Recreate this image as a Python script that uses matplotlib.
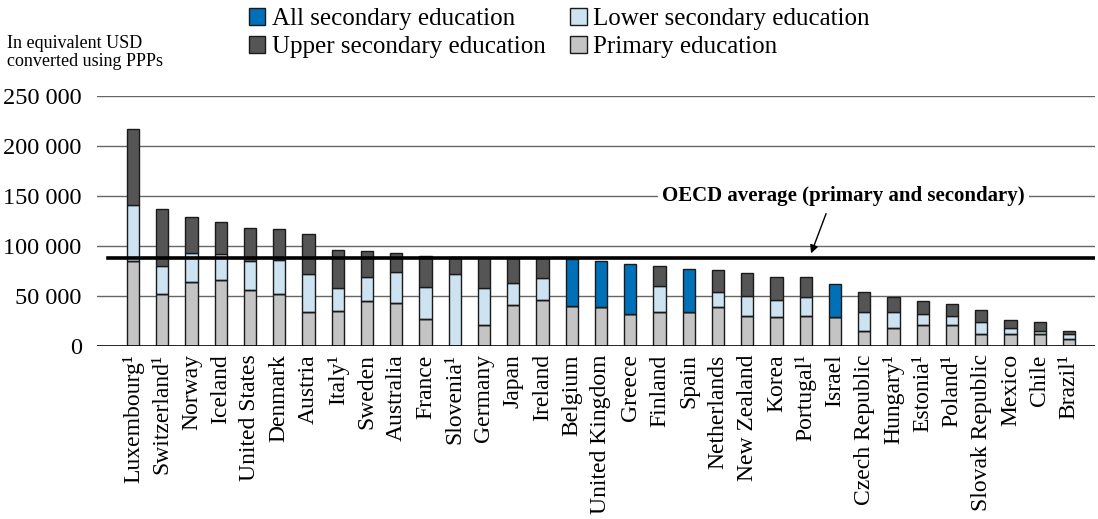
import matplotlib
matplotlib.use("Agg")
import matplotlib.pyplot as plt
from matplotlib.patches import Patch
import numpy as np

plt.rcParams['font.family'] = ['Liberation Serif', 'DejaVu Serif']

countries = ["Luxembourg¹", "Switzerland¹", "Norway", "Iceland", "United States", "Denmark",
             "Austria", "Italy¹", "Sweden", "Australia", "France", "Slovenia¹", "Germany",
             "Japan", "Ireland", "Belgium", "United Kingdom", "Greece", "Finland", "Spain",
             "Netherlands", "New Zealand", "Korea", "Portugal¹", "Israel", "Czech Republic",
             "Hungary¹", "Estonia¹", "Poland¹", "Slovak Republic", "Mexico", "Chile", "Brazil¹"]

primary = [85000, 52000, 64000, 66000, 56000, 52000, 34000, 35000, 45000, 43000, 27000, 0,
           21000, 41000, 46000, 40000, 39000, 32000, 34000, 34000, 39000, 30000, 29000, 30000,
           29000, 15000, 18000, 21000, 21000, 12000, 12500, 12500, 6700]
lower_secondary = [56000, 28000, 29000, 26000, 29000, 34000, 38000, 23000, 24000, 31000, 32000, 72000,
                   37000, 22000, 22000, 0, 0, 0, 26000, 0, 15000, 20000, 17000, 19000,
                   0, 19000, 16000, 11000, 9000, 12000, 5500, 2800, 5000]
upper_secondary = [76000, 57000, 36000, 32000, 33000, 31000, 40000, 38000, 26000, 19000, 31000, 17000,
                   30000, 25000, 20000, 0, 0, 0, 20000, 0, 22000, 23000, 23000, 20000,
                   0, 20000, 15000, 13000, 12000, 12000, 8500, 9000, 3300]
all_secondary = [0, 0, 0, 0, 0, 0, 0, 0, 0, 0, 0, 0,
                 0, 0, 0, 47000, 46000, 50000, 0, 43000, 0, 0, 0, 0,
                 33000, 0, 0, 0, 0, 0, 0, 0, 0]
oecd_average = 88000
yticks = [0, 50000, 100000, 150000, 200000, 250000]

c_all = "#0071B9"
c_lower = "#CDE3F1"
c_upper = "#555555"
c_prim = "#C4C4C4"
edge = "#1a1a1a"

fig = plt.figure(figsize=(10.98, 5.19), dpi=100)
ax = fig.add_axes([97/1098, 1 - 346/519, (1095-97)/1098, 250/519])

x = np.arange(len(countries))
p = np.array(primary)
l = np.array(lower_secondary)
u = np.array(upper_secondary)
a = np.array(all_secondary)
w = 0.42
kw = dict(width=w, edgecolor=edge, linewidth=1.0, zorder=3)
ax.bar(x, p, color=c_prim, **kw)
ax.bar(x, l, bottom=p, color=c_lower, **kw)
ax.bar(x, u, bottom=p + l, color=c_upper, **kw)
ax.bar(x, a, bottom=p, color=c_all, **kw)

ax.set_xlim(-1.23, len(countries) - 1 + 0.89)
ax.set_ylim(0, 250000)
ax.set_yticks(yticks)
ax.set_yticklabels([f"{v:,}".replace(",", " ") for v in yticks], fontsize=17.5)
for s in ax.spines.values():
    s.set_visible(False)
ax.tick_params(axis='y', length=0, pad=11)
ax.tick_params(axis='x', length=0, pad=6)
ax.set_xticks(x)
ax.set_xticklabels(countries, rotation=90, fontsize=17, va='top', ha='center')
for v in yticks[1:]:
    ax.axhline(v, color="#666666", lw=1.0, zorder=1)
ax.axhline(0, color="black", lw=1.2, zorder=4)
ax.axhline(oecd_average, xmin=0.011, xmax=1.0, color="black", lw=2.6, zorder=5)

# OECD label
i_port = countries.index("Portugal¹")
ax.text(i_port + 1.3, 150000, "OECD average (primary and secondary)", fontsize=15,
        fontweight='bold', ha='center', va='center', zorder=6,
        bbox=dict(facecolor='white', edgecolor='none', pad=3))
ax.annotate("", xy=(i_port + 0.15, oecd_average + 2000), xytext=(i_port + 0.73, 135000),
            arrowprops=dict(arrowstyle='-|>', color='black', lw=1.0, mutation_scale=12),
            zorder=6)

fig.text(7/1098, 1 - 35/519, "In equivalent USD\nconverted using PPPs", fontsize=13,
         ha='left', va='top', linespacing=1.05)

handles = [Patch(facecolor=c_all, edgecolor=edge, label="All secondary education"),
           Patch(facecolor=c_upper, edgecolor=edge, label="Upper secondary education"),
           Patch(facecolor=c_lower, edgecolor=edge, label="Lower secondary education"),
           Patch(facecolor=c_prim, edgecolor=edge, label="Primary education")]
fig.legend(handles=handles, ncol=2, loc='upper left', bbox_to_anchor=(249/1098, 1 - 8/519),
           frameon=False, fontsize=18, handlelength=0.65, handleheight=0.65,
           handletextpad=0.25, columnspacing=1.0, labelspacing=0.25, borderpad=0,
           borderaxespad=0)

fig.savefig("out.png", dpi=100)
